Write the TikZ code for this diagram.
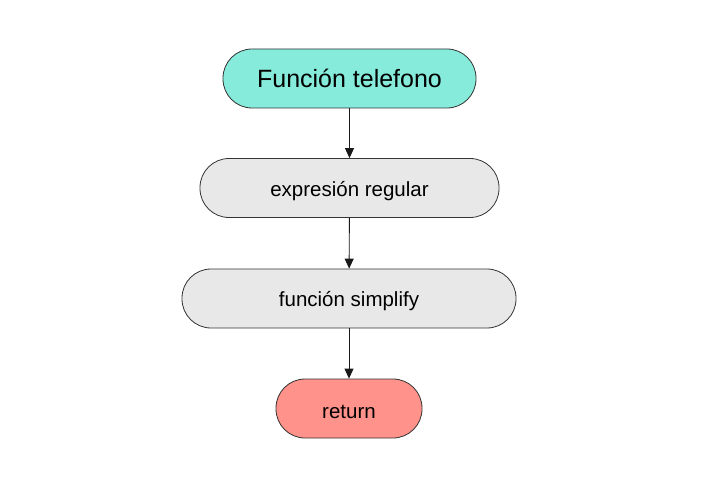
\documentclass[tikz,border=0pt]{standalone}
\usepackage{fontspec}
\setmainfont{Liberation Sans}
\usetikzlibrary{arrows.meta}
\definecolor{teal1}{HTML}{86EBDB}
\definecolor{gray1}{HTML}{E8E8E8}
\definecolor{salmon1}{HTML}{FF928A}
\definecolor{edge1}{HTML}{333333}
\newcommand{\lowertxt}[1]{\raisebox{-3pt}[\height][\depth]{#1}}
\begin{document}
\begin{tikzpicture}[x=1pt,y=-1pt,
  pill/.style={draw=edge1,line width=0.8pt,rounded corners=29pt,minimum height=59pt,inner sep=0pt,font=\fontsize{20.5}{23}\selectfont},
  conn/.style={draw=black!90,line width=0.9pt,-{Triangle[length=10pt,width=9pt]}}]
\useasboundingbox (0,0) rectangle (704,497);
\node[pill,fill=teal1,minimum width=253pt,font=\fontsize{25}{28}\selectfont] (a) at (349.5,78.5) {Función telefono};
\node[pill,fill=gray1,minimum width=299pt] (b) at (349.5,188) {\lowertxt{expresión regular}};
\node[pill,fill=gray1,minimum width=334pt] (c) at (349,298.5) {\lowertxt{función simplify}};
\node[pill,fill=salmon1,minimum width=146pt] (d) at (349,408.5) {\lowertxt{return}};
\draw[conn] (a) -- (b);
\draw[conn] (b) -- (c);
\draw[conn] (c) -- (d);
\end{tikzpicture}
\end{document}
